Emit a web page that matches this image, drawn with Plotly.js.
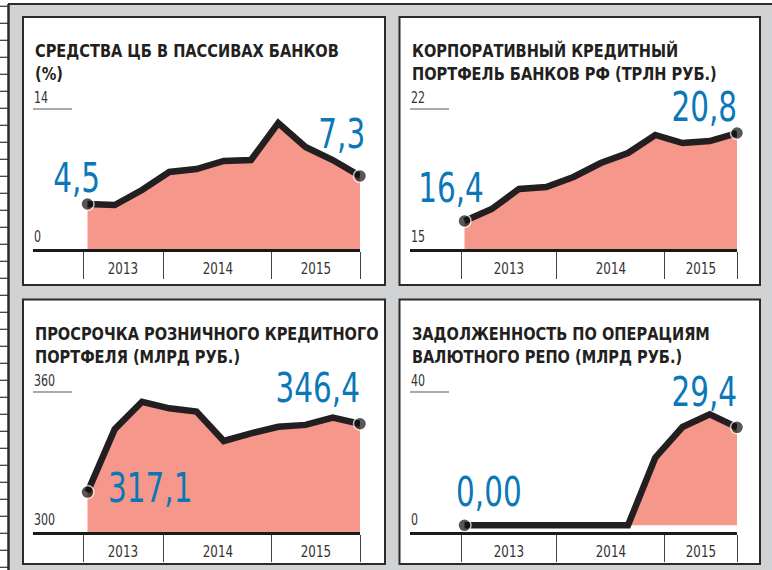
<!DOCTYPE html>
<html>
<head>
<meta charset="utf-8">
<script src="https://cdn.plot.ly/plotly-3.0.1.min.js"></script>
<style>
  html, body { margin: 0; padding: 0; background: #ffffff; }
  #chart { width: 772px; height: 570px; }
</style>
</head>
<body>
<div id="chart"></div>
<script>
// ---------------- DATA ----------------
const years = ['2013', '2014', '2015'];

const title1 = ['СРЕДСТВА ЦБ В ПАССИВАХ БАНКОВ', '(%)'];
const values1 = [4.5, 4.4, 5.9, 7.7, 8.0, 8.8, 8.9, 12.6, 10.2, 8.9, 7.3];
const yTicks1 = ['0', '14'];
const yRange1 = [0, 14];
const endLabels1 = ['4,5', '7,3'];

const title2 = ['КОРПОРАТИВНЫЙ КРЕДИТНЫЙ', 'ПОРТФЕЛЬ БАНКОВ РФ (ТРЛН РУБ.)'];
const values2 = [16.4, 17.0, 18.0, 18.1, 18.6, 19.3, 19.8, 20.7, 20.3, 20.4, 20.8];
const yTicks2 = ['15', '22'];
const yRange2 = [15, 22];
const endLabels2 = ['16,4', '20,8'];

const title3 = ['ПРОСРОЧКА РОЗНИЧНОГО КРЕДИТНОГО', 'ПОРТФЕЛЯ (МЛРД РУБ.)'];
const values3 = [317.1, 344.1, 355.8, 353.0, 351.6, 339.0, 342.3, 345.1, 345.9, 349.0, 346.4];
const yTicks3 = ['300', '360'];
const yRange3 = [300, 360];
const endLabels3 = ['317,1', '346,4'];

const title4 = ['ЗАДОЛЖЕННОСТЬ ПО ОПЕРАЦИЯМ', 'ВАЛЮТНОГО РЕПО (МЛРД РУБ.)'];
const values4 = [0, 0, 0, 0, 0, 0, 0, 20.3, 29.5, 33.3, 29.4];
const yTicks4 = ['0', '40'];
const yRange4 = [-2, 40];
const endLabels4 = ['0,00', '29,4'];

// ---------------- LAYOUT HELPERS ----------------
const W = 772, H = 570;
const px = v => v / W;
const py = v => 1 - v / H;

const NARROW = "'Liberation Sans Narrow', 'Arial Narrow', 'DejaVu Sans Condensed', sans-serif";
const INK = '#231f20';
const FILL = '#f5978a';
const BLUE = '#0a78b8';

// year-separator positions (x index units) differ per column in the original
const boundsLeft = [-0.15, 2.79, 6.76, 10];
const boundsRight = [-0.12, 3.39, 7.34, 10];

const panels = [
  { title: title1, vals: values1, yt: yTicks1, yr: yRange1, lab: endLabels1,
    rect: [23, 17, 385, 285], plotX: [33, 360], plotY: [109, 249], bounds: boundsLeft,
    s: { dx: -11, dy: 26, anchor: 'center' }, e: { dx: 7, dy: 42 } },
  { title: title2, vals: values2, yt: yTicks2, yr: yRange2, lab: endLabels2,
    rect: [399.5, 17, 760, 285], plotX: [410, 737], plotY: [109, 249], bounds: boundsRight,
    s: { dx: -14, dy: 33, anchor: 'center' }, e: { dx: 2, dy: 26 } },
  { title: title3, vals: values3, yt: yTicks3, yr: yRange3, lab: endLabels3,
    rect: [23, 299.5, 385, 564], plotX: [33, 360], plotY: [392, 532], bounds: boundsLeft,
    s: { dx: 18, dy: 4, anchor: 'left' }, e: { dx: 2, dy: 36 } },
  { title: title4, vals: values4, yt: yTicks4, yr: yRange4, lab: endLabels4,
    rect: [399.5, 299.5, 760, 564], plotX: [410, 737], plotY: [392, 532], bounds: boundsRight,
    s: { dx: -11, dy: 33, anchor: 'left' }, e: { dx: 2, dy: 35 } }
];

const traces = [];
const shapes = [];
const annotations = [];
const annScale = [];   // horizontal condensing per annotation (visual only)
const layout = {
  width: W, height: H,
  margin: { l: 0, r: 0, t: 0, b: 0, pad: 0 },
  paper_bgcolor: '#ffffff',
  plot_bgcolor: 'rgba(0,0,0,0)',
  showlegend: false,
  hovermode: false,
  font: { family: NARROW, color: INK }
};

function addAnn(a, s) { annotations.push(a); annScale.push(s); }

// page background: grey board + ruler strip on the left
shapes.push({ type: 'rect', xref: 'paper', yref: 'paper', layer: 'below',
  x0: px(8), x1: 1.01, y0: -0.01, y1: py(4), fillcolor: '#d1d2d4', line: { width: 0 } });
shapes.push({ type: 'line', xref: 'paper', yref: 'paper', layer: 'below',
  x0: px(8), x1: 1.01, y0: py(4), y1: py(4), line: { color: '#2a2a2a', width: 2 } });
shapes.push({ type: 'line', xref: 'paper', yref: 'paper', layer: 'below',
  x0: px(8.5), x1: px(8.5), y0: py(4), y1: -0.01, line: { color: '#2a2a2a', width: 2.5 } });
for (let k = 0; k <= 33; k++) {
  const yy = 6.3 + 17.0 * k;
  shapes.push({ type: 'line', xref: 'paper', yref: 'paper', layer: 'below',
    x0: 0, x1: px(8), y0: py(yy), y1: py(yy), line: { color: '#333', width: 1.2 } });
}

panels.forEach((p, i) => {
  const n = i + 1;
  const xa = 'x' + (n === 1 ? '' : n);
  const ya = 'y' + (n === 1 ? '' : n);
  const xKey = 'xaxis' + (n === 1 ? '' : n);
  const yKey = 'yaxis' + (n === 1 ? '' : n);
  const idx = p.vals.map((_, j) => j);
  const last = p.vals.length - 1;

  // white panel card
  shapes.push({ type: 'rect', xref: 'paper', yref: 'paper', layer: 'below',
    x0: px(p.rect[0]), x1: px(p.rect[2]), y0: py(p.rect[3]), y1: py(p.rect[1]),
    fillcolor: '#ffffff', line: { color: '#2b2b2b', width: 2 } });

  layout[xKey] = {
    domain: [px(p.plotX[0]), px(p.plotX[1])],
    anchor: ya, range: [-2, 10], fixedrange: true,
    showgrid: false, zeroline: false,
    showline: true, linecolor: '#1a1a1a', linewidth: 2.5,
    tickmode: 'array', tickvals: p.bounds, ticks: 'outside',
    ticklen: 27, tickwidth: 1, tickcolor: '#444', showticklabels: false
  };
  layout[yKey] = {
    domain: [py(p.plotY[1]), py(p.plotY[0])],
    anchor: xa, range: p.yr, fixedrange: true,
    visible: false, showgrid: false, zeroline: false
  };

  traces.push({
    type: 'scatter', x: idx, y: p.vals, xaxis: xa, yaxis: ya,
    mode: 'lines+markers', fill: 'tozeroy', fillcolor: FILL,
    line: { color: INK, width: 6.5 },
    marker: { size: idx.map(j => (j === 0 || j === last) ? 13 : 0), color: '#111',
      line: { color: '#ffffff', width: 1.5 } },
    cliponaxis: false, hoverinfo: 'skip'
  });

  // title
  addAnn({ xref: 'paper', yref: 'paper', x: px(p.rect[0] + 10), y: py(p.rect[1] + 21),
    xanchor: 'left', yanchor: 'top', align: 'left', showarrow: false,
    text: p.title.join('<br>'),
    font: { family: NARROW, size: 18, color: INK, weight: 'bold' } }, 0.9);

  // y-axis end labels and top stub
  addAnn({ xref: xa + ' domain', yref: ya + ' domain', x: 0, y: 1,
    xanchor: 'left', yanchor: 'bottom', showarrow: false, xshift: -1, yshift: 0,
    text: p.yt[1], font: { family: NARROW, size: 15, color: '#333' } }, 0.82);
  addAnn({ xref: xa + ' domain', yref: ya + ' domain', x: 0, y: 0,
    xanchor: 'left', yanchor: 'bottom', showarrow: false, xshift: -1, yshift: 1,
    text: p.yt[0], font: { family: NARROW, size: 15, color: '#333' } }, 0.82);
  shapes.push({ type: 'line', xref: xa + ' domain', yref: ya + ' domain',
    x0: 0, x1: 39 / 327, y0: 1, y1: 1, line: { color: '#555', width: 1 } });

  // year labels centred between separators
  years.forEach((yr, k) => {
    addAnn({ xref: xa, yref: 'paper',
      x: (p.bounds[k] + p.bounds[k + 1]) / 2, y: py(p.plotY[1] + 19),
      xanchor: 'center', yanchor: 'middle', showarrow: false,
      text: yr, font: { family: NARROW, size: 16.5, color: '#333' } }, 0.8);
  });

  // first / last value labels
  addAnn({ xref: xa, yref: ya, x: 0, y: p.vals[0],
    xanchor: p.s.anchor, yanchor: 'middle', showarrow: false,
    xshift: p.s.dx, yshift: p.s.dy, text: p.lab[0],
    font: { family: NARROW, size: 40, color: BLUE } }, 0.82);
  addAnn({ xref: xa, yref: ya, x: last, y: p.vals[last],
    xanchor: 'right', yanchor: 'middle', showarrow: false,
    xshift: p.e.dx, yshift: p.e.dy, text: p.lab[1],
    font: { family: NARROW, size: 40, color: BLUE } }, 0.82);
});

layout.shapes = shapes;
layout.annotations = annotations;

Plotly.newPlot('chart', traces, layout, { staticPlot: true, displayModeBar: false }).then(gd => {
  // condense the (real) text horizontally to mimic the narrow newspaper face
  gd.querySelectorAll('g.annotation').forEach(g => {
    const i = +g.getAttribute('data-index');
    const a = annotations[i];
    const s = annScale[i];
    const t = g.querySelector('text.annotation-text');
    if (!t || !s) return;
    const origin = a.xanchor === 'left' ? 'left center' : (a.xanchor === 'right' ? 'right center' : 'center center');
    t.style.transformBox = 'fill-box';
    t.style.transformOrigin = origin;
    t.style.transform = 'scaleX(' + s + ')';
  });
});
</script>
</body>
</html>
